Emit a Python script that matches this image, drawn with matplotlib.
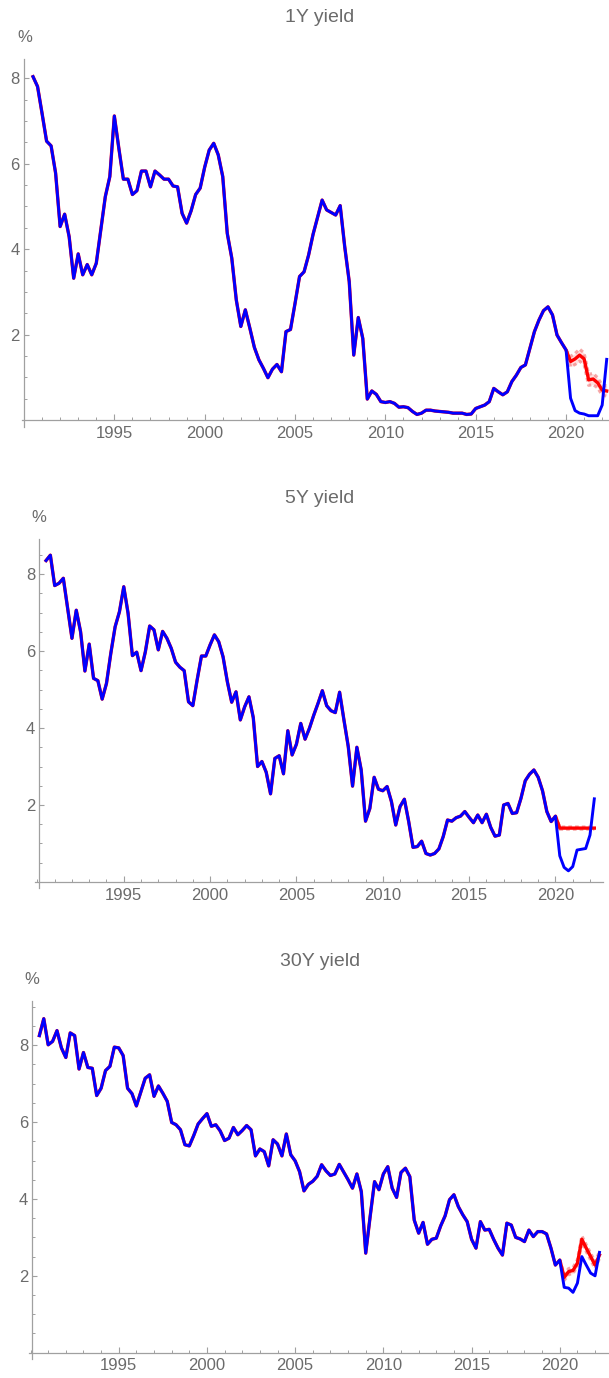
import numpy as np
import matplotlib.pyplot as plt
from matplotlib.ticker import MultipleLocator

plt.rcParams['font.family'] = ['Liberation Sans', 'DejaVu Sans']

# quarterly observations, 1990 Q3 .. 2022 Q2
t = np.arange(1990.5, 2022.5, 0.25)

y1 = [8.04, 7.81, 7.18, 6.53, 6.42, 5.78, 4.53, 4.82, 4.29, 3.32, 3.89, 3.40,
      3.64, 3.40, 3.67, 4.45, 5.23, 5.70, 7.12, 6.36, 5.64, 5.64, 5.28, 5.37,
      5.83, 5.83, 5.46, 5.83, 5.74, 5.64, 5.64, 5.48, 5.46, 4.84, 4.61, 4.90,
      5.28, 5.43, 5.92, 6.32, 6.48, 6.21, 5.70, 4.37, 3.79, 2.81, 2.19, 2.58,
      2.15, 1.70, 1.41, 1.21, 0.99, 1.19, 1.30, 1.13, 2.07, 2.12, 2.73, 3.36,
      3.47, 3.86, 4.35, 4.75, 5.15, 4.92, 4.86, 4.80, 5.02, 4.06, 3.24, 1.52,
      2.40, 1.91, 0.49, 0.68, 0.60, 0.43, 0.41, 0.43, 0.39, 0.30, 0.31, 0.29,
      0.20, 0.13, 0.16, 0.23, 0.23, 0.21, 0.20, 0.19, 0.18, 0.16, 0.16, 0.16,
      0.13, 0.14, 0.27, 0.31, 0.35, 0.43, 0.74, 0.66, 0.59, 0.66, 0.90, 1.05,
      1.23, 1.29, 1.68, 2.07, 2.34, 2.56, 2.65, 2.46, 1.99, 1.81, 1.64, 0.51,
      0.22, 0.16, 0.14, 0.10, 0.10, 0.10, 0.35, 1.42]

y5 = [8.35, 8.49, 7.70, 7.76, 7.89, 7.11, 6.33, 7.06, 6.50, 5.48, 6.18, 5.29,
      5.23, 4.75, 5.16, 5.94, 6.63, 7.02, 7.67, 6.98, 5.88, 5.97, 5.49, 5.98,
      6.65, 6.55, 6.03, 6.51, 6.33, 6.07, 5.71, 5.58, 5.49, 4.68, 4.58, 5.25,
      5.87, 5.87, 6.16, 6.42, 6.24, 5.85, 5.20, 4.67, 4.94, 4.21, 4.55, 4.81,
      4.27, 3.00, 3.13, 2.85, 2.29, 3.21, 3.28, 2.81, 3.93, 3.30, 3.58, 4.12,
      3.71, 3.99, 4.33, 4.64, 4.97, 4.58, 4.45, 4.40, 4.93, 4.21, 3.52, 2.49,
      3.50, 2.91, 1.58, 1.91, 2.72, 2.41, 2.37, 2.48, 2.09, 1.48, 1.96, 2.15,
      1.57, 0.90, 0.92, 1.06, 0.74, 0.70, 0.74, 0.86, 1.18, 1.61, 1.58, 1.67,
      1.71, 1.83, 1.68, 1.54, 1.74, 1.54, 1.76, 1.42, 1.19, 1.22, 2.00, 2.04,
      1.78, 1.80, 2.17, 2.63, 2.80, 2.91, 2.72, 2.37, 1.83, 1.57, 1.71, 0.68,
      0.38, 0.29, 0.40, 0.83, 0.85, 0.87, 1.22, 2.16]

y30 = [8.25, 8.69, 8.01, 8.10, 8.38, 7.93, 7.68, 8.32, 8.25, 7.38, 7.81, 7.42,
       7.40, 6.69, 6.88, 7.34, 7.45, 7.95, 7.93, 7.73, 6.88, 6.74, 6.42, 6.78,
       7.14, 7.23, 6.67, 6.94, 6.75, 6.54, 5.99, 5.93, 5.80, 5.41, 5.38, 5.65,
       5.95, 6.09, 6.22, 5.89, 5.93, 5.77, 5.52, 5.58, 5.86, 5.67, 5.78, 5.91,
       5.80, 5.12, 5.30, 5.23, 4.86, 5.54, 5.43, 5.12, 5.69, 5.15, 4.99, 4.71,
       4.21, 4.38, 4.46, 4.59, 4.89, 4.73, 4.61, 4.65, 4.90, 4.70, 4.50, 4.28,
       4.65, 4.19, 2.59, 3.54, 4.45, 4.24, 4.65, 4.84, 4.28, 4.04, 4.69, 4.80,
       4.58, 3.45, 3.11, 3.39, 2.82, 2.95, 2.98, 3.30, 3.56, 3.98, 4.11, 3.80,
       3.59, 3.41, 2.95, 2.72, 3.41, 3.19, 3.21, 2.95, 2.72, 2.54, 3.37, 3.32,
       3.00, 2.96, 2.89, 3.19, 3.02, 3.15, 3.15, 3.09, 2.72, 2.28, 2.41, 1.70,
       1.68, 1.57, 1.81, 2.50, 2.28, 2.07, 2.00, 2.61]

# forecasts from 2020 Q1 with band half-widths
tf = np.arange(2020.0, 2022.5, 0.25)
f1 = [1.64, 1.37, 1.43, 1.52, 1.43, 0.94, 0.96, 0.87, 0.70, 0.68]
f5 = [1.71, 1.40, 1.40, 1.40, 1.40, 1.40, 1.40, 1.40, 1.40, 1.40]
f30 = [2.41, 1.96, 2.11, 2.14, 2.33, 2.95, 2.72, 2.50, 2.28, 2.54]
b1 = [0.0, 0.12, 0.13, 0.14, 0.14, 0.13, 0.13, 0.12, 0.12, 0.12]
b5 = [0.0, 0.03, 0.03, 0.03, 0.03, 0.03, 0.03, 0.03, 0.03, 0.03]
b30 = [0.0, 0.08, 0.08, 0.08, 0.09, 0.09, 0.09, 0.09, 0.09, 0.09]

titles = ['1Y yield', '5Y yield', '30Y yield']

W, H = 609, 1378
fig = plt.figure(figsize=(W / 100, H / 100), dpi=100)

GRAY = '#6b6b6b'
AXC = '#a0a0a0'

# pixel layout: axes box (left, right, top, bottom), axis crossing, limits
panels = [
    dict(y=y1, f=f1, b=b1, box=(21.7, 609, 59, 426.7), x0=1990.0,
         xlim=(1989.873, 2022.377), ylim=(-0.157, 8.454), title_y=17, pct=(25, 38)),
    dict(y=y5, f=f5, b=b5, box=(35, 603.3, 539, 888.3), x0=1990.11,
         xlim=(1989.86, 2022.77), ylim=(-0.164, 8.91), title_y=498, pct=(39, 518)),
    dict(y=y30, f=f30, b=b30, box=(29.3, 609, 1001, 1359.3), x0=1990.10,
         xlim=(1989.93, 2022.79), ylim=(-0.172, 9.15), title_y=961, pct=(32, 980)),
]

for p, title in zip(panels, titles):
    l, r, tp, bt = p['box']
    ax = fig.add_axes([l / W, 1 - bt / H, (r - l) / W, (bt - tp) / H])
    ax.set_xlim(*p['xlim'])
    ax.set_ylim(*p['ylim'])

    hist = np.array(p['y'])
    fc = np.array(p['f'])
    bw = np.array(p['b'])
    mask = t <= 2020.0
    # fitted red under the data, then forecast with band
    ax.plot(np.concatenate([t[mask], tf[1:]]), np.concatenate([hist[mask], fc[1:]]),
            color='red', lw=2.4, zorder=2)
    ax.fill_between(tf, fc - bw, fc + bw, color='red', alpha=0.12, lw=0, zorder=1)
    for sgn in (-1, 1):
        ax.plot(tf, fc + sgn * bw, color='#f07070', alpha=0.6, lw=2.2,
                ls=(0, (1.2, 1.0)), zorder=1.5)
    ax.plot(t, hist, color='#0000ff', lw=2.1, zorder=3)

    for s in ['top', 'right']:
        ax.spines[s].set_visible(False)
    ax.spines['left'].set_position(('data', p['x0']))
    ax.spines['bottom'].set_position(('data', 0))
    for s in ['left', 'bottom']:
        ax.spines[s].set_color(AXC)
        ax.spines[s].set_linewidth(0.9)

    ax.set_xticks([1995, 2000, 2005, 2010, 2015, 2020])
    ax.xaxis.set_minor_locator(MultipleLocator(1))
    ax.set_yticks([2, 4, 6, 8])
    ax.yaxis.set_minor_locator(MultipleLocator(0.5))
    ax.tick_params(axis='both', which='both', direction='in', color=AXC,
                   labelcolor=GRAY, labelsize=12)
    ax.tick_params(axis='x', which='major', length=4.5, width=0.8, pad=4)
    ax.tick_params(axis='x', which='minor', length=2.3, width=0.7)
    ax.tick_params(axis='y', which='major', length=3.5, width=0.8, pad=3)
    ax.tick_params(axis='y', which='minor', length=2.3, width=0.7)

    fig.text(320 / W, 1 - p['title_y'] / H, title, ha='center', va='center',
             fontsize=14, color=GRAY)
    fig.text(p['pct'][0] / W, 1 - p['pct'][1] / H, '%', ha='center', va='center',
             fontsize=12, color=GRAY)

fig.savefig('out.png', dpi=100)
